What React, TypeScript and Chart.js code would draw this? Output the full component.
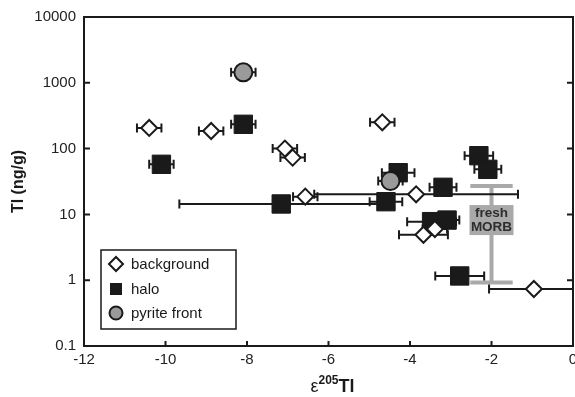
import React, { useEffect, useRef } from 'react';
import { Chart, registerables } from 'chart.js';

Chart.register(...registerables);

// ---- data ----
const seriesNames = ['background', 'halo', 'pyrite front'];

const bgX = [-10.4, -8.88, -7.07, -6.88, -6.57, -4.68, -3.85, -3.67, -3.39, -0.96];
const bgY = [206, 185, 100, 73, 18.6, 251, 20.2, 4.9, 6.0, 0.735];
const bgErr = [0.3, 0.3, 0.3, 0.3, 0.3, 0.3, 2.5, 0.6, 0.3, 1.1];

const haloX = [-10.1, -8.09, -7.16, -4.59, -4.29, -3.19, -2.31, -2.09, -3.47, -3.09, -2.78];
const haloY = [57.7, 234, 14.4, 15.6, 43, 25.8, 78, 48.4, 7.76, 8.2, 1.16];
const haloErr = [0.3, 0.3, 2.5, 0.4, 0.4, 0.33, 0.35, 0.33, 0.6, 0.3, 0.6];

const pyriteX = [-8.09, -4.48];
const pyriteY = [1443, 32.2];
const pyriteErr = [0.3, 0.3];

const xTicks = [-12, -10, -8, -6, -4, -2, 0];
const yTicks = [0.1, 1, 10, 100, 1000, 10000];

const morbX = -2;
const morbLow = 0.92;
const morbHigh = 27;
const morbCapHalf = 0.52;
const morbLabelY = 8.2;
const morbLabel = ['fresh', 'MORB'];

const FONT = 'Arial, "Liberation Sans", Helvetica, sans-serif';

const errSets = [
  { xs: bgX, ys: bgY, es: bgErr },
  { xs: haloX, ys: haloY, es: haloErr },
  { xs: pyriteX, ys: pyriteY, es: pyriteErr },
];

const deco = {
  id: 'deco',
  beforeDatasetsDraw(chart: any) {
    const { ctx, chartArea: a, scales } = chart;
    const x = scales.x, y = scales.y;
    ctx.save();
    ctx.beginPath();
    ctx.rect(a.left, a.top, a.right - a.left, a.bottom - a.top);
    ctx.clip();
    // fresh MORB bar
    const mx = x.getPixelForValue(morbX);
    const y1 = y.getPixelForValue(morbHigh);
    const y2 = y.getPixelForValue(morbLow);
    const cl = x.getPixelForValue(morbX - morbCapHalf);
    const cr = x.getPixelForValue(morbX + morbCapHalf);
    ctx.strokeStyle = '#a9a9a9';
    ctx.lineWidth = 4;
    ctx.beginPath();
    ctx.moveTo(mx, y1); ctx.lineTo(mx, y2);
    ctx.moveTo(cl, y1); ctx.lineTo(cr, y1);
    ctx.moveTo(cl, y2); ctx.lineTo(cr, y2);
    ctx.stroke();
    const ly = y.getPixelForValue(morbLabelY);
    ctx.fillStyle = '#a9a9a9';
    ctx.fillRect(mx - 22, ly - 15, 44, 30);
    ctx.fillStyle = '#2e2e2e';
    ctx.font = `bold 13.5px ${FONT}`;
    ctx.textAlign = 'center';
    ctx.textBaseline = 'middle';
    ctx.fillText(morbLabel[0], mx, ly - 6.5);
    ctx.fillText(morbLabel[1], mx, ly + 7.5);
    // error bars
    ctx.strokeStyle = '#1a1a1a';
    ctx.lineWidth = 2;
    errSets.forEach((s) => {
      s.xs.forEach((xv, i) => {
        const py = y.getPixelForValue(s.ys[i]);
        const l = x.getPixelForValue(xv - s.es[i]);
        const r = x.getPixelForValue(xv + s.es[i]);
        ctx.beginPath();
        ctx.moveTo(l, py); ctx.lineTo(r, py);
        ctx.moveTo(l, py - 4.5); ctx.lineTo(l, py + 4.5);
        ctx.moveTo(r, py - 4.5); ctx.lineTo(r, py + 4.5);
        ctx.stroke();
      });
    });
    ctx.restore();
  },
  afterDraw(chart: any) {
    const { ctx, chartArea: a, scales } = chart;
    const x = scales.x, y = scales.y;
    ctx.save();
    // frame
    ctx.strokeStyle = '#1a1a1a';
    ctx.lineWidth = 2;
    ctx.strokeRect(a.left, a.top, a.right - a.left, a.bottom - a.top);
    ctx.beginPath();
    xTicks.forEach((v) => {
      const px = x.getPixelForValue(v);
      ctx.moveTo(px, a.bottom); ctx.lineTo(px, a.bottom - 5);
    });
    yTicks.forEach((v) => {
      const py = y.getPixelForValue(v);
      ctx.moveTo(a.left, py); ctx.lineTo(a.left + 6, py);
      ctx.moveTo(a.right, py); ctx.lineTo(a.right - 6, py);
    });
    ctx.stroke();

    // legend
    const lx = 101, lyTop = 250, lw = 135, lh = 79;
    ctx.fillStyle = '#fff';
    ctx.fillRect(lx, lyTop, lw, lh);
    ctx.lineWidth = 1.5;
    ctx.strokeStyle = '#1a1a1a';
    ctx.strokeRect(lx, lyTop, lw, lh);
    const rows = [264, 289, 313];
    const sx = 116;
    // diamond
    ctx.lineWidth = 2;
    ctx.beginPath();
    ctx.moveTo(sx - 7, rows[0]); ctx.lineTo(sx, rows[0] - 7);
    ctx.lineTo(sx + 7, rows[0]); ctx.lineTo(sx, rows[0] + 7);
    ctx.closePath();
    ctx.fillStyle = '#fff';
    ctx.fill();
    ctx.stroke();
    // square
    ctx.fillStyle = '#1a1a1a';
    ctx.fillRect(sx - 6, rows[1] - 6, 12, 12);
    // circle
    ctx.beginPath();
    ctx.arc(sx, rows[2], 6.5, 0, Math.PI * 2);
    ctx.fillStyle = '#9a9a9a';
    ctx.fill();
    ctx.stroke();
    ctx.fillStyle = '#1a1a1a';
    ctx.font = `15px ${FONT}`;
    ctx.textAlign = 'left';
    ctx.textBaseline = 'middle';
    seriesNames.forEach((n, i) => ctx.fillText(n, 131, rows[i] + 1));

    // x title
    const cx = (a.left + a.right) / 2 + 4;
    const base = 392;
    ctx.textBaseline = 'alphabetic';
    const p1 = 'ε', p2 = '205', p3 = 'Tl';
    ctx.font = `18px ${FONT}`;
    const w1 = ctx.measureText(p1).width;
    ctx.font = `bold 12px ${FONT}`;
    const w2 = ctx.measureText(p2).width;
    ctx.font = `bold 18px ${FONT}`;
    const w3 = ctx.measureText(p3).width;
    let tx = cx - (w1 + w2 + w3) / 2;
    ctx.font = `18px ${FONT}`;
    ctx.fillText(p1, tx, base); tx += w1;
    ctx.font = `bold 12px ${FONT}`;
    ctx.fillText(p2, tx, base - 8); tx += w2;
    ctx.font = `bold 18px ${FONT}`;
    ctx.fillText(p3, tx, base);

    // y title
    ctx.translate(19, (a.top + a.bottom) / 2);
    ctx.rotate(-Math.PI / 2);
    ctx.font = `bold 16px ${FONT}`;
    ctx.textAlign = 'center';
    ctx.textBaseline = 'middle';
    ctx.fillText('Tl (ng/g)', 0, 0);
    ctx.restore();
  },
};

export default function App() {
  const ref = useRef<HTMLCanvasElement>(null);
  useEffect(() => {
    if (!ref.current) return;
    const mk = (xs: number[], ys: number[]) => xs.map((v, i) => ({ x: v, y: ys[i] }));
    const chart = new Chart(ref.current, {
      type: 'scatter',
      data: {
        datasets: [
          {
            label: seriesNames[0],
            data: mk(bgX, bgY),
            pointStyle: 'rectRot',
            pointRadius: 8,
            backgroundColor: '#ffffff',
            borderColor: '#1a1a1a',
            borderWidth: 2,
            order: 1,
          },
          {
            label: seriesNames[1],
            data: mk(haloX, haloY),
            pointStyle: 'rect',
            pointRadius: 13,
            backgroundColor: '#1a1a1a',
            borderColor: '#1a1a1a',
            borderWidth: 1,
            order: 2,
          },
          {
            label: seriesNames[2],
            data: mk(pyriteX, pyriteY),
            pointStyle: 'circle',
            pointRadius: 9,
            backgroundColor: '#9a9a9a',
            borderColor: '#1a1a1a',
            borderWidth: 2,
            order: 0,
          },
        ],
      },
      options: {
        responsive: false,
        animation: false,
        devicePixelRatio: 1,
        layout: { autoPadding: false, padding: { top: 17, right: 2, left: 0, bottom: 0 } },
        plugins: { legend: { display: false }, tooltip: { enabled: false } },
        scales: {
          x: {
            type: 'linear',
            min: -12,
            max: 0,
            grid: { display: false, drawTicks: false },
            border: { display: false },
            afterBuildTicks: (s: any) => { s.ticks = xTicks.map((v) => ({ value: v })); },
            ticks: {
              padding: 5,
              color: '#222',
              font: { family: FONT, size: 15 },
              callback: (v: any) => String(v),
              maxRotation: 0,
              autoSkip: false,
            },
            afterFit: (s: any) => { s.height = 51; s.paddingLeft = 0; s.paddingRight = 0; },
          },
          y: {
            type: 'logarithmic',
            min: 0.1,
            max: 10000,
            grid: { display: false, drawTicks: false },
            border: { display: false },
            afterBuildTicks: (s: any) => { s.ticks = yTicks.map((v) => ({ value: v })); },
            ticks: {
              padding: 8,
              color: '#222',
              font: { family: FONT, size: 15 },
              callback: (v: any) => String(v),
              autoSkip: false,
            },
            afterFit: (s: any) => { s.width = 84; s.paddingTop = 0; s.paddingBottom = 0; },
          },
        },
      } as any,
      plugins: [deco],
    });
    return () => chart.destroy();
  }, []);
  return (
    <div style={{ position: 'absolute', left: 0, top: 0, width: 575, height: 397, background: '#fff' }}>
      <canvas ref={ref} width={575} height={397} />
    </div>
  );
}
